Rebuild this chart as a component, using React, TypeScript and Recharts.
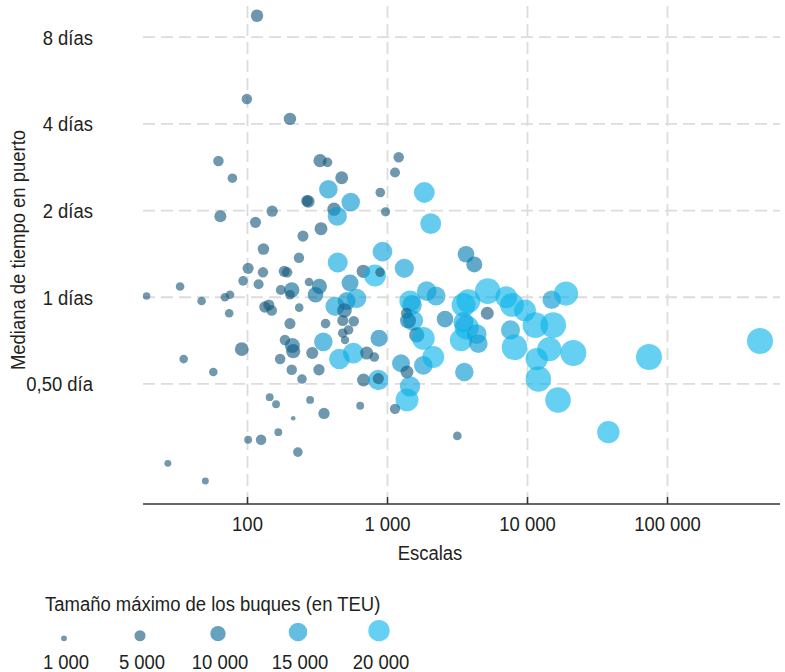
import React from 'react';
import { ScatterChart, Scatter, XAxis, YAxis, ZAxis, ReferenceLine } from 'recharts';

// Escalas (port calls, log scale)
const escalas = [
  117, 99, 201, 62, 330, 373, 78, 471, 888, 1202,
  1131, 378, 546, 272, 266, 415, 438, 64, 114, 150,
  335, 249, 968, 1832, 2035, 130, 921, 441, 672, 814,
  884, 1318, 3637, 4168, 540, 233, 101, 129, 183, 192,
  93, 120, 173, 207, 201, 275, 326, 306, 19, 33,
  47, 69, 75, 74, 133, 142, 149, 234, 201, 361,
  422, 511, 601, 493, 479, 574, 479, 527, 497, 185,
  209, 212, 91, 35, 57, 171, 290, 348, 207, 324,
  245, 453, 570, 710, 805, 870, 674, 860, 860, 1249,
  1378, 1802, 2124, 1448, 1378, 1131, 3152, 144, 160, 280,
  638, 352, 212, 166, 101, 125, 229, 27, 50, 1448,
  1496, 1905, 2220, 1367, 1521, 1401, 2575, 1617, 1802, 3491,
  3777, 5196, 5160, 3680, 3491, 3350, 4453, 4337, 3537, 7057,
  7750, 9597, 7560, 8075, 11370, 15280, 14890, 18840, 14310, 11630,
  21240, 11950, 16520, 37790, 73740, 457700,
];

// Mediana de tiempo en puerto (días)
const mediana = [
  9.49, 4.88, 4.16, 2.97, 2.98, 2.94, 2.59, 2.6, 2.31, 3.06,
  2.71, 2.37, 2.14, 2.15, 2.16, 2.02, 1.91, 1.91, 1.82, 1.99,
  1.73, 1.63, 1.98, 2.31, 1.8, 1.47, 1.44, 1.32, 1.23, 1.19,
  1.22, 1.26, 1.41, 1.3, 1.12, 1.37, 1.26, 1.22, 1.23, 1.22,
  1.14, 1.11, 1.06, 1.06, 1.02, 1.13, 1.09, 1.02, 1.01, 1.09,
  0.97, 1.0, 1.02, 0.88, 0.925, 0.94, 0.9, 0.92, 0.81, 0.81,
  0.93, 0.97, 0.99, 0.9, 0.83, 0.825, 0.75, 0.77, 0.71, 0.71,
  0.68, 0.65, 0.66, 0.61, 0.55, 0.61, 0.64, 0.7, 0.56, 0.56,
  0.52, 0.61, 0.64, 0.64, 0.62, 0.72, 0.516, 0.516, 0.522, 0.59,
  0.55, 0.58, 0.62, 0.49, 0.44, 0.41, 0.33, 0.45, 0.425, 0.44,
  0.42, 0.395, 0.38, 0.34, 0.32, 0.32, 0.29, 0.265, 0.23, 0.97,
  0.94, 1.05, 1.01, 0.88, 0.83, 0.83, 0.84, 0.74, 0.72, 0.94,
  0.97, 1.05, 0.88, 0.785, 0.82, 0.71, 0.69, 0.745, 0.55, 1.0,
  0.94, 0.9, 0.77, 0.67, 0.8, 0.8, 0.98, 1.03, 0.66, 0.61,
  0.64, 0.52, 0.44, 0.34, 0.62, 0.705,
];

// Tamaño máximo de los buques (TEU)
const teu = [
  6400, 4400, 6400, 4400, 7500, 3600, 3600, 7000, 3600, 4400,
  4000, 15000, 15000, 6500, 5500, 7500, 16000, 6000, 5000, 5200,
  7000, 5000, 3300, 19000, 19000, 5500, 17000, 17500, 7500, 21000,
  3500, 16000, 12000, 11000, 12500, 4400, 5000, 4400, 5000, 4400,
  3600, 4000, 4000, 10000, 3600, 2800, 10000, 10500, 2000, 2800,
  2800, 2800, 2800, 2800, 5200, 5000, 4500, 2800, 5000, 3600,
  16000, 14000, 16500, 9000, 5000, 4400, 3600, 3600, 2600, 4400,
  9500, 8500, 8000, 2800, 2800, 4400, 6000, 15000, 4400, 5200,
  3600, 18500, 19000, 7000, 3600, 12500, 7000, 18000, 5000, 14000,
  7000, 15000, 21000, 18000, 23000, 4200, 2800, 2200, 2200, 2200,
  2200, 5200, 400, 2200, 2200, 4400, 3600, 1600, 1600, 20000,
  17000, 17000, 16000, 5000, 18000, 11000, 12000, 10000, 23000, 25000,
  25000, 29000, 7000, 26000, 18000, 22000, 15000, 17000, 15000, 21000,
  25000, 21000, 16000, 29000, 29000, 29000, 15000, 26000, 26000, 22000,
  30000, 29000, 29000, 22000, 30000, 30000,
];

const xTicks = [100, 1000, 10000, 100000];
const xTickLabels = ['100', '1 000', '10 000', '100 000'];
const yTicks = [0.5, 1, 2, 4, 8];
const yTickLabels = ['0,50 día', '1 días', '2 días', '4 días', '8 días'];
const legendTeu = [1000, 5000, 10000, 15000, 20000];
const legendLabels = ['1 000', '5 000', '10 000', '15 000', '20 000'];

const data = escalas.map((x, i) => ({ x, y: mediana[i], z: teu[i] }));

const FONT = "'Liberation Sans', Arial, sans-serif";
const FS = 21;
const SX = 0.88; // condensed look
const TEXT = '#231f20';
const GRID = '#dcdcdc';
const Z_DOMAIN: [number, number] = [0, 30000];
const Z_RANGE: [number, number] = [10, 531];
const ALPHA = 0.62;

const stops: [number, number[]][] = [
  [0, [31, 92, 124]],
  [8000, [18, 86, 124]],
  [11000, [2, 115, 166]],
  [15000, [5, 150, 208]],
  [20000, [8, 179, 234]],
];

function baseColor(t: number): string {
  let c = stops[stops.length - 1][1];
  if (t <= stops[0][0]) c = stops[0][1];
  else {
    for (let i = 1; i < stops.length; i++) {
      if (t <= stops[i][0]) {
        const [t0, c0] = stops[i - 1];
        const [t1, c1] = stops[i];
        const f = (t - t0) / (t1 - t0);
        c = c0.map((v, k) => v + (c1[k] - v) * f);
        break;
      }
    }
  }
  return `rgb(${c.map((v) => Math.round(v)).join(',')})`;
}
function radiusFor(t: number) {
  const area = Z_RANGE[0] + ((Z_RANGE[1] - Z_RANGE[0]) * (t - Z_DOMAIN[0])) / (Z_DOMAIN[1] - Z_DOMAIN[0]);
  return Math.sqrt(area / Math.PI);
}

const XTick = (props: any) => {
  const { x, y, payload } = props;
  const label = xTickLabels[xTicks.indexOf(payload.value)] ?? String(payload.value);
  return (
    <text transform={`translate(${x},${y}) scale(${SX},1)`} textAnchor="middle" dy="0.71em" fontSize={FS} fontFamily={FONT} fill={TEXT}>
      {label}
    </text>
  );
};

const YTick = (props: any) => {
  const { x, y, payload } = props;
  const label = yTickLabels[yTicks.indexOf(payload.value)] ?? String(payload.value);
  return (
    <text transform={`translate(${x},${y}) scale(${SX},1)`} textAnchor="end" dy="0.355em" fontSize={FS} fontFamily={FONT} fill={TEXT}>
      {label}
    </text>
  );
};

const Bubble = (props: any) => {
  const { cx, cy, width, payload } = props;
  const r = (width ?? 0) / 2;
  return <circle cx={cx} cy={cy} r={r} fill={baseColor(payload.z)} fillOpacity={ALPHA} />;
};

const legendX = [64, 140, 218, 298, 379];

export default function App() {
  return (
    <div style={{ position: 'absolute', left: 0, top: 0, width: 785, height: 672, background: '#fff' }}>
      <ScatterChart width={785} height={672} margin={{ top: 0, right: 5, bottom: 108, left: 0 }}>
        <XAxis
          type="number"
          dataKey="x"
          scale="log"
          domain={[17.93, 636000]}
          allowDataOverflow
          ticks={xTicks}
          interval={0}
          height={60}
          tickSize={-7}
          tickMargin={19}
          axisLine={{ stroke: '#333', strokeWidth: 1.3 }}
          tickLine={{ stroke: '#333', strokeWidth: 1.5 }}
          tick={<XTick />}
        />
        <YAxis
          type="number"
          dataKey="y"
          scale="log"
          domain={[0.1915, 10.763]}
          allowDataOverflow
          ticks={yTicks}
          interval={0}
          width={143}
          tickSize={0}
          tickMargin={50}
          axisLine={false}
          tickLine={false}
          tick={<YTick />}
        />
        <ZAxis type="number" dataKey="z" domain={Z_DOMAIN} range={Z_RANGE} />
        {xTicks.map((t) => (
          <ReferenceLine key={`vx${t}`} x={t} stroke={GRID} strokeWidth={1.8} strokeDasharray="12 6" />
        ))}
        {yTicks.map((t) => (
          <ReferenceLine key={`hy${t}`} y={t} stroke={GRID} strokeWidth={1.8} strokeDasharray="12 6" />
        ))}
        <Scatter data={data} isAnimationActive={false} shape={<Bubble />} />
      </ScatterChart>
      <svg
        width={785}
        height={672}
        style={{ position: 'absolute', left: 0, top: 0, pointerEvents: 'none' }}
        fontFamily={FONT}
        fontSize={FS}
        fill={TEXT}
      >
        <text transform={`translate(25,250) rotate(-90) scale(${SX},1)`} textAnchor="middle">
          Mediana de tiempo en puerto
        </text>
        <text transform={`translate(430,560) scale(${SX},1)`} textAnchor="middle">
          Escalas
        </text>
        <text transform={`translate(45,611) scale(${SX},1)`}>Tamaño máximo de los buques (en TEU)</text>
        {legendTeu.map((t, i) => {
          const r = radiusFor(t);
          return (
            <g key={t}>
              <circle cx={legendX[i]} cy={641.3 - r} r={r} fill={baseColor(t)} fillOpacity={ALPHA} />
              <text transform={`translate(${legendX[i] + 2},668.5) scale(${SX},1)`} textAnchor="middle">
                {legendLabels[i]}
              </text>
            </g>
          );
        })}
      </svg>
    </div>
  );
}
